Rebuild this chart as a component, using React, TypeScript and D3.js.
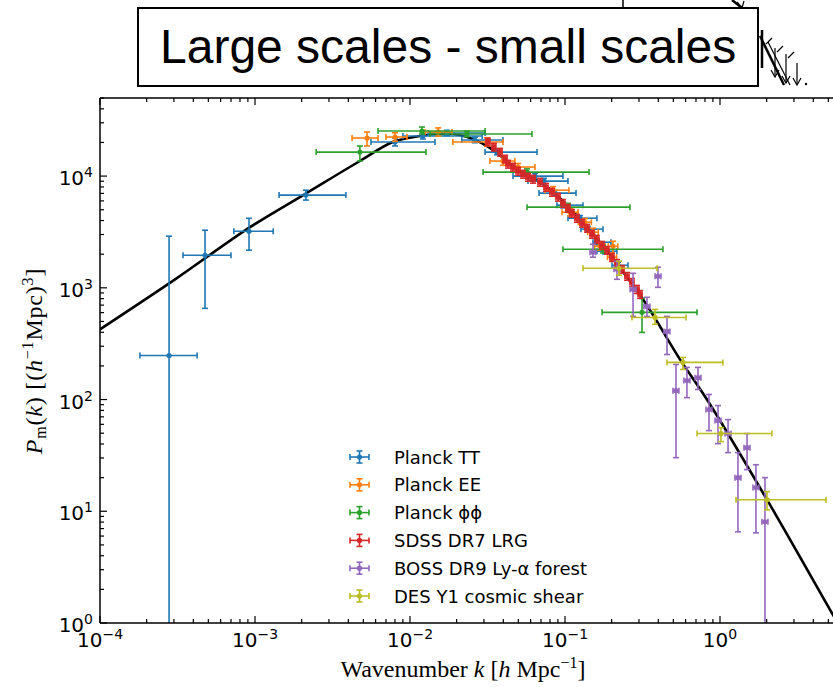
import React from 'react';
import * as d3 from 'd3';

// ---------- data ----------
// each row: [k, kLo, kHi, P, PLo, PHi]
const planckTT: number[][] = [
  [2.79e-4, 1.81e-4, 4.23e-4, 248, 0.3, 2900],
  [4.76e-4, 3.43e-4, 7.0e-4, 1956, 655, 3280],
  [9.15e-4, 7.3e-4, 1.31e-3, 3210, 2170, 4190],
  [2.13e-3, 1.43e-3, 3.86e-3, 6760, 6100, 7480],
  [8.0e-3, 5.6e-3, 0.0145, 20200, 18600, 21900],
  [0.0121, 9.0e-3, 0.0292, 22850, 21500, 24300],
  [0.0173, 0.0131, 0.0305, 24300, 23000, 25700],
  [0.0262, 0.0216, 0.0398, 21040, 19900, 22300],
  [0.0364, 0.0305, 0.066, 16400, 15500, 17400],
  [0.064, 0.0462, 0.097, 10000, 9450, 10600],
  [0.0732, 0.0577, 0.1045, 9020, 8500, 9550],
  [0.0861, 0.068, 0.1178, 7040, 6650, 7450],
  [0.097, 0.0887, 0.1306, 5495, 5200, 5800],
  [0.125, 0.1045, 0.1607, 4200, 3970, 4440],
  [0.1406, 0.1268, 0.1758, 3350, 3170, 3540],
  [0.1607, 0.1516, 0.198, 2560, 2420, 2710],
  [0.181, 0.1607, 0.2165, 2125, 2010, 2250],
  [0.2197, 0.201, 0.2548, 1592, 1500, 1690],
];

const planckEE: number[][] = [
  [5.28e-3, 4.23e-3, 6.22e-3, 21930, 18580, 24830],
  [8.0e-3, 7.0e-3, 9.57e-3, 22390, 20500, 24400],
  [0.0152, 0.0125, 0.0187, 24830, 22800, 27000],
  [0.0314, 0.0189, 0.0398, 20180, 18500, 22000],
  [0.0398, 0.0328, 0.0475, 13640, 12500, 14900],
  [0.0498, 0.0462, 0.064, 12050, 11200, 12950],
  [0.0838, 0.0743, 0.106, 7482, 6950, 8050],
  [0.1076, 0.0957, 0.1214, 4753, 4400, 5130],
  [0.1346, 0.122, 0.148, 3864, 3580, 4170],
  [0.1516, 0.14, 0.164, 3147, 2900, 3420],
  [0.168, 0.155, 0.182, 2356, 2170, 2560],
  [0.201, 0.188, 0.215, 1879, 1720, 2050],
  [0.204, 0.19, 0.219, 2356, 1729, 2612],
];

const planckPhiPhi: number[][] = [
  [4.75e-3, 2.48e-3, 0.01268, 16400, 13640, 18580],
  [0.01194, 6.22e-3, 0.0305, 25330, 23820, 27480],
  [0.0233, 0.01347, 0.0612, 23820, 22500, 25200],
  [0.0569, 0.0296, 0.1429, 10860, 10200, 11600],
  [0.1045, 0.0569, 0.2625, 5272, 4900, 5700],
  [0.1758, 0.097, 0.4285, 2215, 2050, 2400],
  [0.314, 0.1734, 0.711, 603, 399, 805],
];

const sdssLRG: number[][] = [
  [0.0318, 0.0309, 0.0328, 20180, 18600, 21800],
  [0.0348, 0.0338, 0.0358, 18200, 16750, 19650],
  [0.0381, 0.037, 0.0392, 16400, 15100, 17700],
  [0.0411, 0.0399, 0.0423, 14200, 13100, 15350],
  [0.0429, 0.0416, 0.0442, 12820, 11800, 13850],
  [0.0462, 0.0448, 0.0476, 12050, 11100, 13000],
  [0.0498, 0.0483, 0.0513, 11090, 10200, 12000],
  [0.0536, 0.052, 0.0552, 10420, 9590, 11250],
  [0.0577, 0.056, 0.0594, 9790, 9010, 10570],
  [0.0622, 0.0603, 0.0641, 9400, 8650, 10150],
  [0.069, 0.0669, 0.0711, 8830, 8120, 9540],
  [0.0754, 0.0731, 0.0777, 7960, 7320, 8600],
  [0.0824, 0.0799, 0.0849, 7190, 6610, 7770],
  [0.0901, 0.0874, 0.0928, 6490, 5970, 7010],
  [0.097, 0.0941, 0.0999, 5710, 5250, 6170],
  [0.1045, 0.1014, 0.1076, 5160, 4750, 5570],
  [0.1109, 0.1076, 0.1142, 4660, 4290, 5030],
  [0.1194, 0.1158, 0.123, 4200, 3860, 4540],
  [0.1287, 0.1248, 0.1326, 3790, 3490, 4090],
  [0.1387, 0.1345, 0.1429, 3420, 3150, 3690],
  [0.1494, 0.1449, 0.1539, 3020, 2780, 3260],
  [0.1607, 0.1559, 0.1655, 2725, 2510, 2940],
  [0.1734, 0.1682, 0.1786, 2405, 2210, 2600],
  [0.1866, 0.181, 0.1922, 2170, 2000, 2340],
  [0.201, 0.195, 0.207, 1880, 1730, 2030],
  [0.2165, 0.21, 0.223, 1660, 1530, 1790],
  [0.2333, 0.2263, 0.2403, 1466, 1350, 1580],
  [0.2512, 0.2437, 0.2587, 1268, 1170, 1370],
  [0.2704, 0.2623, 0.2785, 1120, 1030, 1210],
  [0.2917, 0.283, 0.3004, 970, 890, 1050],
  [0.305, 0.296, 0.314, 875, 805, 945],
];

const bossLyA: number[][] = [
  [0.1516, 0.145, 0.158, 2080, 1880, 2455],
  [0.2165, 0.207, 0.226, 1466, 1192, 1729],
  [0.2748, 0.263, 0.287, 970, 555, 1349],
  [0.398, 0.381, 0.416, 1268, 1010, 1528],
  [0.338, 0.323, 0.353, 682, 555, 822],
  [0.455, 0.435, 0.475, 407, 253, 555],
  [0.52, 0.497, 0.543, 120, 30.2, 206],
  [0.612, 0.585, 0.64, 148, 104, 194],
  [0.721, 0.69, 0.753, 157, 123, 194],
  [0.849, 0.812, 0.887, 81.3, 52.7, 111],
  [0.971, 0.929, 1.015, 64.9, 40.3, 88.3],
  [1.127, 1.078, 1.178, 49.6, 33.5, 66.2],
  [1.494, 1.429, 1.561, 37.1, 23.6, 49.6],
  [1.306, 1.249, 1.365, 20.0, 6.55, 33.5],
  [1.706, 1.632, 1.783, 16.3, 6.41, 26.1],
  [1.95, 1.865, 2.038, 8.05, 0.3, 20.0],
];

const desY1: number[][] = [
  [0.223, 0.1306, 0.3926, 1496, 1294, 1729],
  [0.381, 0.2704, 0.604, 543, 471, 641],
  [0.577, 0.455, 1.045, 215, 186, 238],
  [1.014, 0.711, 2.16, 49.6, 42.0, 56.1],
  [2.01, 1.268, 4.83, 12.7, 10.3, 15.0],
];

// theory curve
const curveK = [1e-4, 3.05e-4, 9.29e-4, 2.1e-3, 4.75e-3, 7.76e-3, 0.0116, 0.0165, 0.021, 0.0314, 0.049, 0.08, 0.1306, 0.168, 0.318, 0.552, 0.824, 2.01, 5.36, 8];
const curveP = [425, 1190, 3490, 6900, 13650, 20180, 22860, 23900, 23300, 18580, 11560, 7640, 3864, 2560, 789, 229, 100, 12.7, 1.18, 0.45];

const seriesNames = ['Planck TT', 'Planck EE', 'Planck \u03d5\u03d5', 'SDSS DR7 LRG', 'BOSS DR9 Ly-\u03b1 forest', 'DES Y1 cosmic shear'];
const seriesColors = ['#1f77b4', '#ff7f0e', '#2ca02c', '#d62728', '#9467bd', '#bcbd22'];
const seriesData = [planckTT, planckEE, planckPhiPhi, sdssLRG, bossLyA, desY1];

const xMajor = [1e-4, 1e-3, 1e-2, 1e-1, 1, 10];
const xMajorExp = ['\u22124', '\u22123', '\u22122', '\u22121', '0', '1'];
const yMajor = [1, 10, 100, 1000, 10000];
const yMajorExp = ['0', '1', '2', '3', '4'];

// ---------- layout ----------
const W = 833;
const H = 687;
const L = 100;
const T = 98;
const B = 623;
const R = 875;

const x = d3.scaleLog().domain([1e-4, 10]).range([L, R]);
const y = d3.scaleLog().domain([1, 5e4]).range([B, T]);

function minorTicks(lo: number, hi: number, max: number) {
  const out: number[] = [];
  for (let e = lo; e <= hi; e++) {
    for (let m = 2; m <= 9; m++) {
      const v = m * Math.pow(10, e);
      if (v <= max) out.push(v);
    }
  }
  return out;
}

const TICK_FONT = 'DejaVu Sans, sans-serif';
const SERIF = 'Liberation Serif, serif';

function ErrorBar({ d, color }: { d: number[]; color: string }) {
  const [k, kLo, kHi, P, PLo, PHi] = d;
  const cx = x(k);
  const cy = y(P);
  const x0 = x(kLo);
  const x1 = x(kHi);
  const y0 = y(Math.max(PLo, 0.01));
  const y1 = y(PHi);
  const c = 3;
  return (
    <g stroke={color} strokeWidth={1.6} fill="none">
      <line x1={x0} y1={cy} x2={x1} y2={cy} />
      <line x1={x0} y1={cy - c} x2={x0} y2={cy + c} />
      <line x1={x1} y1={cy - c} x2={x1} y2={cy + c} />
      <line x1={cx} y1={y0} x2={cx} y2={y1} />
      <line x1={cx - c} y1={y0} x2={cx + c} y2={y0} />
      <line x1={cx - c} y1={y1} x2={cx + c} y2={y1} />
      <circle cx={cx} cy={cy} r={2.6} fill={color} stroke="none" />
    </g>
  );
}

export default function App() {
  const line = d3
    .line<number>()
    .x((_, i) => x(curveK[i]))
    .y((_, i) => y(curveP[i]))
    .curve(d3.curveCatmullRom.alpha(0.5));
  const path = line(curveK) || '';

  const xMinor = minorTicks(-4, 0, 10);
  const yMinor = minorTicks(0, 4, 5e4);

  return (
    <svg
      width={W}
      height={H}
      style={{ position: 'absolute', left: 0, top: 0, background: '#fff' }}
      xmlns="http://www.w3.org/2000/svg"
    >
      <rect x={0} y={0} width={W} height={H} fill="#fff" />
      <defs>
        <clipPath id="plotclip">
          <rect x={L} y={T} width={R - L} height={B - T} />
        </clipPath>
      </defs>

      {/* decorations above the title box (cut-off figure parts) */}
      <g stroke="#000" fill="none">
        <line x1={623} y1={0} x2={623} y2={8} strokeWidth={1.5} />
        <line x1={732} y1={0} x2={742} y2={8} strokeWidth={2.5} />
        <path d="M737,2 L742,8 L744,1" strokeWidth={1.2} />
        <line x1={762} y1={30} x2={762} y2={68} strokeWidth={2.5} />
        <line x1={760} y1={36} x2={784} y2={85} strokeWidth={2.5} />
        <line x1={768} y1={42} x2={790} y2={85} strokeWidth={1.2} />
        <line x1={775} y1={48} x2={775} y2={76} strokeWidth={1.2} />
        <path d="M771,70 L775,77 L779,70" strokeWidth={1.2} />
        <line x1={786} y1={54} x2={786} y2={82} strokeWidth={1.2} />
        <path d="M782,76 L786,83 L790,76" strokeWidth={1.2} />
        <line x1={797} y1={63} x2={797} y2={84} strokeWidth={1.2} />
        <path d="M793,78 L797,85 L801,78" strokeWidth={1.2} />
        <line x1={766} y1={44} x2={772} y2={38} strokeWidth={1.2} />
        <line x1={777} y1={52} x2={783} y2={46} strokeWidth={1.2} />
        <line x1={788} y1={58} x2={794} y2={52} strokeWidth={1.2} />
      </g>
      <circle cx={806} cy={84} r={1.2} fill="#000" />

      {/* title box */}
      <rect x={138} y={8} width={620} height={78} fill="#fff" stroke="#000" strokeWidth={2} />
      <text x={160} y={63} fontFamily="Liberation Sans, Arial, sans-serif" fontSize={48} fill="#000">
        Large scales - small scales
      </text>

      {/* theory curve + data */}
      <g clipPath="url(#plotclip)">
        <path d={path} fill="none" stroke="#000" strokeWidth={2.6} />
        {seriesData.map((s, si) => (
          <g key={si}>
            {s.map((d, i) => (
              <ErrorBar key={i} d={d} color={seriesColors[si]} />
            ))}
          </g>
        ))}
      </g>

      {/* axes frame */}
      <g stroke="#000" strokeWidth={1.5} fill="none">
        <line x1={L} y1={T} x2={L} y2={B} />
        <line x1={L} y1={B} x2={W} y2={B} />
        <line x1={L} y1={T} x2={W} y2={T} />
      </g>

      {/* ticks (inside, bottom/top/left) */}
      <g stroke="#000" strokeWidth={1.2}>
        {xMajor.map((v, i) =>
          x(v) <= W ? (
            <g key={'xm' + i}>
              <line x1={x(v)} y1={B} x2={x(v)} y2={B - 7} />
              <line x1={x(v)} y1={T} x2={x(v)} y2={T + 7} />
            </g>
          ) : null
        )}
        {xMinor.map((v, i) =>
          x(v) <= W ? (
            <g key={'xn' + i}>
              <line x1={x(v)} y1={B} x2={x(v)} y2={B - 4} />
              <line x1={x(v)} y1={T} x2={x(v)} y2={T + 4} />
            </g>
          ) : null
        )}
        {yMajor.map((v, i) => (
          <line key={'ym' + i} x1={L} y1={y(v)} x2={L + 7} y2={y(v)} />
        ))}
        {yMinor.map((v, i) => (
          <line key={'yn' + i} x1={L} y1={y(v)} x2={L + 4} y2={y(v)} />
        ))}
      </g>

      {/* x tick labels */}
      {xMajor.map((v, i) =>
        x(v) <= W ? (
          <text key={'xl' + i} x={x(v)} y={647} textAnchor="middle" fontFamily={TICK_FONT} fontSize={20} fill="#000">
            10
            <tspan dy={-8} fontSize={14}>
              {xMajorExp[i]}
            </tspan>
          </text>
        ) : null
      )}
      {/* y tick labels */}
      {yMajor.map((v, i) => (
        <text key={'yl' + i} x={93} y={y(v) + 9} textAnchor="end" fontFamily={TICK_FONT} fontSize={20} fill="#000">
          10
          <tspan dy={-8} fontSize={14}>
            {yMajorExp[i]}
          </tspan>
        </text>
      ))}

      {/* axis labels */}
      <text x={463} y={677} textAnchor="middle" fontFamily={SERIF} fontSize={24} fill="#000">
        Wavenumber <tspan fontStyle="italic">k</tspan> [<tspan fontStyle="italic">h</tspan> Mpc
        <tspan dy={-9} fontSize={16}>{'\u22121'}</tspan>
        <tspan dy={9}>]</tspan>
      </text>
      <text
        transform="translate(42,361) rotate(-90)"
        textAnchor="middle"
        fontFamily={SERIF}
        fontSize={24}
        letterSpacing={0.8}
        fill="#000"
      >
        <tspan fontStyle="italic">P</tspan>
        <tspan dy={4} fontSize={16}>m</tspan>
        <tspan dy={-4}>(</tspan>
        <tspan fontStyle="italic">k</tspan>
        <tspan>) [(</tspan>
        <tspan fontStyle="italic">h</tspan>
        <tspan dy={-9} fontSize={16}>{'\u22121'}</tspan>
        <tspan dy={9}>Mpc)</tspan>
        <tspan dy={-9} fontSize={16}>3</tspan>
        <tspan dy={9}>]</tspan>
      </text>

      {/* legend */}
      {seriesNames.map((name, i) => {
        const ly = 457 + i * 27.8;
        const c = seriesColors[i];
        return (
          <g key={'lg' + i}>
            <g stroke={c} strokeWidth={1.6}>
              <line x1={350} y1={ly} x2={369} y2={ly} />
              <line x1={350} y1={ly - 3} x2={350} y2={ly + 3} />
              <line x1={369} y1={ly - 3} x2={369} y2={ly + 3} />
              <line x1={359.5} y1={ly - 6} x2={359.5} y2={ly + 6} />
              <line x1={356.5} y1={ly - 6} x2={362.5} y2={ly - 6} />
              <line x1={356.5} y1={ly + 6} x2={362.5} y2={ly + 6} />
            </g>
            <circle cx={359.5} cy={ly} r={2.6} fill={c} />
            <text x={394} y={ly + 6.5} fontFamily={TICK_FONT} fontSize={18} fill="#000">
              {name}
            </text>
          </g>
        );
      })}
    </svg>
  );
}
